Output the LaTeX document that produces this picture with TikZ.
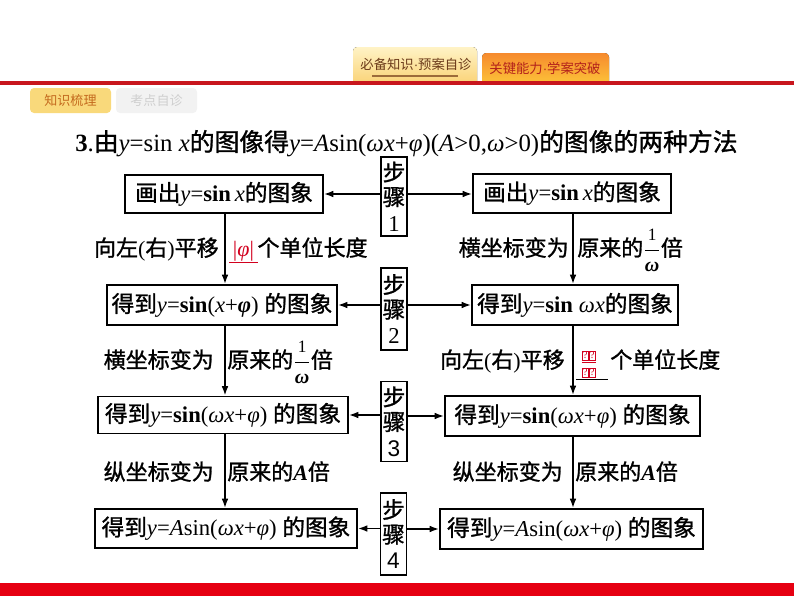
\documentclass[tikz,border=0pt]{standalone}
\usepackage{fontspec}
\setmainfont{Liberation Serif}
\newfontfamily\cjk{Noto Sans CJK SC}[FakeBold=1.2]
\newfontfamily\cjkr{Noto Sans CJK SC}
\newfontfamily\lsans{Liberation Sans}
\usetikzlibrary{arrows.meta}
\definecolor{redline}{HTML}{C8161D}
\definecolor{redbar}{HTML}{E60012}
\definecolor{tabAtop}{HTML}{FFF3C6}
\definecolor{tabAbot}{HTML}{FAD47A}
\definecolor{tabAtext}{HTML}{6B3A1A}
\definecolor{tabAline}{HTML}{9C6B3A}
\definecolor{tabBtop}{HTML}{F68A2E}
\definecolor{tabBbot}{HTML}{FCC038}
\definecolor{tabBtext}{HTML}{B3211B}
\definecolor{subA}{HTML}{F9D97B}
\definecolor{subAtext}{HTML}{C46A1E}
\definecolor{subB}{HTML}{F2F2F2}
\definecolor{subBtext}{HTML}{CFCFCF}
\definecolor{ansred}{HTML}{D2001E}
\newcommand{\zh}[1]{{\cjk #1}}
\newcommand{\vi}[1]{\textit{#1}}
\newcommand{\bvi}[1]{\textbf{\textit{#1}}}
\newcommand{\ofrac}{\ensuremath{\displaystyle\frac{\mbox{\fontsize{13}{13}\selectfont 1}}{\mbox{\fontsize{15}{15}\selectfont\bfseries\itshape ω}}}}
\newcommand{\qmark}{{\fboxsep=0.4pt\fboxrule=0.5pt\fcolorbox{ansred}{white}{\color{ansred}\fontsize{7.5}{7.5}\selectfont ?}}}
\newcommand{\qq}{\mbox{\qmark\hspace{0.2pt}\qmark}}
\begin{document}
\begin{tikzpicture}[x=0.75pt,y=-0.75pt,
  box/.style={draw, line width=1.4pt, inner sep=0pt, font=\fontsize{17}{20}\selectfont},
  stepbox/.style={draw, line width=1.2pt, inner sep=0pt, minimum width=19.5pt, align=center,
     font=\fontsize{17}{19.5}\selectfont},
  conn/.style={line width=1.2pt, -{Latex[length=7pt,width=5pt]}},
  lab/.style={inner sep=0pt, font=\fontsize{16.5}{19}\selectfont}]
\useasboundingbox (0,0) rectangle (794,596);
% header tabs
\fill[top color=tabAtop, bottom color=tabAbot] (353,82) {[rounded corners=3pt] -- (353,47) -- (477,47)} -- (477,82) -- cycle;
\fill[top color=tabBtop, bottom color=tabBbot] (482,82) {[rounded corners=3pt] -- (482,53) -- (609,53)} -- (609,82) -- cycle;
\node[inner sep=0pt, text=tabAtext, font=\cjkr\fontsize{10}{10}\selectfont] (tabA) at (416,64) {必备知识{\lsans ·}预案自诊};
\draw[tabAline, line width=1.5pt] (372,76) -- (458,76);
\node[inner sep=0pt, text=tabBtext, font=\cjkr\fontsize{10}{10}\selectfont] (tabB) at (545,68) {关键能力{\lsans ·}学案突破};
\fill[redline] (0,81) rectangle (794,85);
% sub tabs
\fill[subA, rounded corners=3pt] (30,88) rectangle (111,113);
\node[inner sep=0pt, text=subAtext, font=\cjkr\fontsize{9.8}{10}\selectfont] (subA) at (70.5,100.5) {知识梳理};
\fill[subB, rounded corners=3pt] (116,88) rectangle (197,113);
\node[inner sep=0pt, text=subBtext, font=\cjkr\fontsize{9.8}{10}\selectfont] (subB) at (156.5,100.5) {考点自诊};
% bottom bar
\fill[redbar] (0,583) rectangle (794,596);
% title
\node[inner sep=0pt, anchor=base west, font=\fontsize{18.6}{21}\selectfont] (title) at (75,151)
 {\textbf{3}.\zh{由}\vi{y}=sin \vi{x}\zh{的图像得}\vi{y}=\vi{A}sin(\vi{ωx}+\vi{φ})(\vi{A}>0,\vi{ω}>0)\zh{的图像的两种方法}};
% boxes
\node[box, minimum width=148.5pt, minimum height=28.5pt] (L1) at (224,194) {\zh{画出}\vi{y}=\textbf{sin}\,\vi{x}\zh{的图象}};
\node[box, minimum width=148.5pt, minimum height=29.25pt] (R1) at (572,193.5) {\zh{画出}\vi{y}=\textbf{sin}\,\vi{x}\zh{的图象}};
\node[box, minimum width=172.5pt, minimum height=30pt] (L2) at (222,305) {\zh{得到}\vi{y}=\textbf{sin}(\vi{x}+\bvi{φ}) \zh{的图象}};
\node[box, minimum width=154.5pt, minimum height=30pt] (R2) at (575,305) {\zh{得到}\vi{y}=\textbf{sin} \vi{ωx}\zh{的图象}};
\node[box, minimum width=187.5pt, minimum height=27.75pt] (L3) at (223,415) {\zh{得到}\vi{y}=\textbf{sin}(\vi{ωx}+\vi{φ}) \zh{的图象}};
\node[box, minimum width=191.25pt, minimum height=30pt] (R3) at (572.5,416) {\zh{得到}\vi{y}=\textbf{sin}(\vi{ωx}+\vi{φ}) \zh{的图象}};
\node[box, minimum width=196.5pt, minimum height=29.25pt] (L4) at (226,528.5) {\zh{得到}\vi{y}=\vi{A}sin(\vi{ωx}+\vi{φ}) \zh{的图象}};
\node[box, minimum width=197.25pt, minimum height=30pt] (R4) at (571.5,529) {\zh{得到}\vi{y}=\vi{A}sin(\vi{ωx}+\vi{φ}) \zh{的图象}};
% step boxes
\node[stepbox, minimum height=59.25pt] (S1) at (394,196.5) {\zh{步}\\[-1pt]\zh{骤}\\1};
\node[stepbox, minimum height=61.5pt] (S2) at (394,309) {\zh{步}\\[-1pt]\zh{骤}\\2};
\node[stepbox, minimum height=60pt] (S3) at (394,421.5) {\zh{步}\\[-1pt]\zh{骤}\\{\lsans 3}};
\node[stepbox, minimum height=61.5pt] (S4) at (393.5,534) {\zh{步}\\[-1pt]\zh{骤}\\{\lsans 4}};
% horizontal arrows
\draw[conn] (S1.west |- L1.east) -- (L1.east);
\draw[conn] (S1.east |- L1.east) -- (L1.east -| R1.west);
\draw[conn] (S2.west |- L2.east) -- (L2.east);
\draw[conn] (S2.east |- R2.west) -- (R2.west);
\draw[conn] (S3.west |- L3.east) -- (L3.east);
\draw[conn] (S3.east |- R3.west) -- (R3.west);
\draw[conn] (S4.west |- L4.east) -- (L4.east);
\draw[conn] (S4.east |- R4.west) -- (R4.west);
% vertical arrows
\coordinate (cl) at (225,0);
\coordinate (cr) at (573,0);
\draw[conn] (L1.south -| cl) -- (L2.north -| cl);
\draw[conn] (L2.south -| cl) -- (L3.north -| cl);
\draw[conn] (L3.south -| cl) -- (L4.north -| cl);
\draw[conn] (R1.south -| cr) -- (R2.north -| cr);
\draw[conn] (R2.south -| cr) -- (R3.north -| cr);
\draw[conn] (R3.south -| cr) -- (R4.north -| cr);
% labels row 1-2
\node[lab, anchor=base east] (a1) at (219,256) {\zh{向左}(\zh{右})\zh{平移}};
\node[lab, anchor=base west] (a2) at (229,256) {\textcolor{ansred}{\underline{\,|\vi{φ}|\,}}\zh{个单位长度}};
\node[lab, anchor=base east] (b1) at (569,256) {\zh{横坐标变为}};
\node[lab, anchor=base west] (b2) at (577,256) {\zh{原来的}\ofrac\zh{倍}};
% labels row 2-3
\node[lab, anchor=base east] (c1) at (214,368) {\zh{横坐标变为}};
\node[lab, anchor=base west] (c2) at (227,368) {\zh{原来的}\ofrac\zh{倍}};
\node[lab, anchor=base east] (d1) at (565,368) {\zh{向左}(\zh{右})\zh{平移}};
\node[lab, anchor=base west] (d2) at (576,368) {\underline{\makebox[24pt][l]{\hspace{3pt}\color{ansred}$\frac{\qq}{\qq}$}}};
\node[lab, anchor=base west] (d3) at (610,368) {\zh{个单位长度}};
% labels row 3-4
\node[lab, anchor=base east] (e1) at (214,480) {\zh{纵坐标变为}};
\node[lab, anchor=base west] (e2) at (227,480) {\zh{原来的}\bvi{A}\zh{倍}};
\node[lab, anchor=base east] (f1) at (563,480) {\zh{纵坐标变为}};
\node[lab, anchor=base west] (f2) at (575,480) {\zh{原来的}\bvi{A}\zh{倍}};
\end{tikzpicture}
\end{document}
